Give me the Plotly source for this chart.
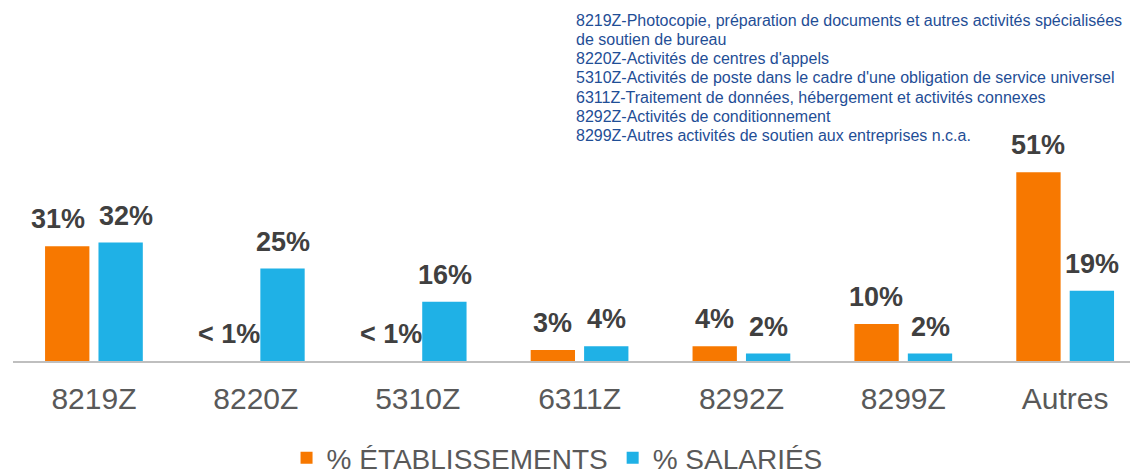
import plotly.graph_objects as go

categories = ["8219Z", "8220Z", "5310Z", "6311Z", "8292Z", "8299Z", "Autres"]
etab_values = [31, 0, 0, 3, 4, 10, 51]
sal_values = [32, 25, 16, 4, 2, 2, 19]
etab_labels = ["31%", "< 1%", "< 1%", "3%", "4%", "10%", "51%"]
sal_labels = ["32%", "25%", "16%", "4%", "2%", "2%", "19%"]
series_names = ["% ÉTABLISSEMENTS", "% SALARIÉS"]
note_lines = [
    "8219Z-Photocopie, préparation de documents et autres activités spécialisées",
    "de soutien de bureau",
    "8220Z-Activités de centres d'appels",
    "5310Z-Activités de poste dans le cadre d'une obligation de service universel",
    "6311Z-Traitement de données, hébergement et activités connexes",
    "8292Z-Activités de conditionnement",
    "8299Z-Autres activités de soutien aux entreprises n.c.a.",
]

ORANGE = "#F77800"
BLUE = "#1FB1E6"
FONT = "Arial, Liberation Sans, sans-serif"

# extra horizontal nudges (px) so neighbouring labels don't touch, as in the original
etab_nudge = {"8219Z": -9}
sal_nudge = {"8219Z": 5}

fig = go.Figure()
fig.add_trace(go.Bar(x=categories, y=etab_values, name=series_names[0],
                     marker=dict(color=ORANGE, line=dict(width=0))))
fig.add_trace(go.Bar(x=categories, y=sal_values, name=series_names[1],
                     marker=dict(color=BLUE, line=dict(width=0))))

annotations = []
label_font = dict(family=FONT, size=27, color="#404040", weight="bold")
for cat, v, lab in zip(categories, etab_values, etab_labels):
    annotations.append(dict(x=cat, y=v, text=lab, xref="x", yref="y", showarrow=False,
                            xanchor="center", yanchor="bottom",
                            xshift=-27 + etab_nudge.get(cat, 0), yshift=10,
                            font=label_font))
for cat, v, lab in zip(categories, sal_values, sal_labels):
    annotations.append(dict(x=cat, y=v, text=lab, xref="x", yref="y", showarrow=False,
                            xanchor="center", yanchor="bottom",
                            xshift=27 + sal_nudge.get(cat, 0), yshift=10,
                            font=label_font))

for i, line in enumerate(note_lines):
    annotations.append(dict(x=0.4987, y=1.0, xref="paper", yref="paper", showarrow=False,
                            xanchor="left", yanchor="middle", align="left",
                            yshift=(139 - 20) - i * 19.3, text=line,
                            font=dict(family=FONT, size=16, color="#1F4E96")))

# the page body has an 8px default margin, so the figure is sized to fit the window
fig.update_layout(
    width=1130, height=467,
    margin=dict(l=5, r=0, t=131, b=114, autoexpand=False),
    paper_bgcolor="white", plot_bgcolor="white",
    barmode="group", bargap=0.34, bargroupgap=0.17,
    font=dict(family=FONT, color="#595959"),
    showlegend=True,
    legend=dict(orientation="h", x=0.4836, xanchor="center", y=-0.437, yanchor="middle",
                font=dict(family=FONT, size=28, color="#595959"), itemwidth=30,
                tracegroupgap=0),
    annotations=annotations,
)
fig.update_xaxes(range=[-0.5, 6.45], showline=True, linecolor="#BFBFBF", linewidth=2,
                 ticks="", tickfont=dict(family=FONT, size=30, color="#595959"),
                 ticklabelstandoff=10, showgrid=False, zeroline=False, automargin=False)
fig.update_yaxes(range=[0, 60], visible=False, showgrid=False, zeroline=False, automargin=False)

fig.write_html("out.html")
